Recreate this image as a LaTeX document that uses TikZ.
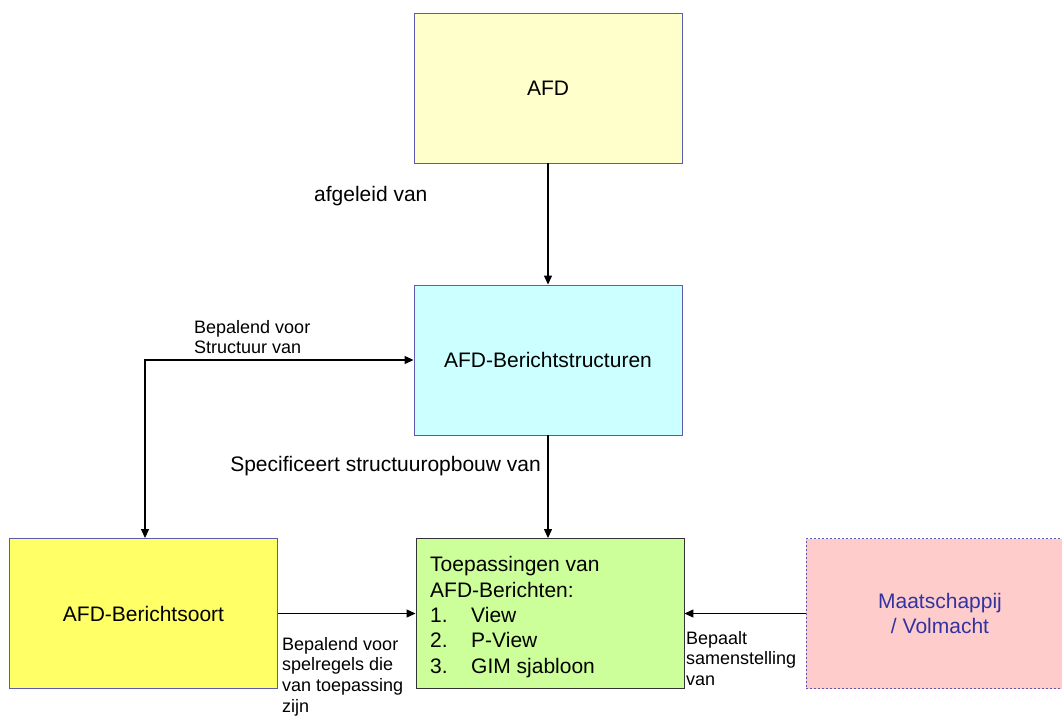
\documentclass[tikz,border=0pt]{standalone}
\usepackage{fontspec}
\setmainfont{Liberation Sans}
\usetikzlibrary{arrows.meta}
\definecolor{boxblue}{HTML}{5A5AB0}
\definecolor{lyellow}{HTML}{FFFFCC}
\definecolor{lcyan}{HTML}{CCFFFF}
\definecolor{byellow}{HTML}{FFFF66}
\definecolor{lgreen}{HTML}{CCFF99}
\definecolor{lpink}{HTML}{FFCCCC}
\definecolor{txtblue}{HTML}{3333A0}
\begin{document}
\begin{tikzpicture}[x=1pt,y=-1pt,
  box/.style={draw=boxblue,line width=0.9pt,minimum width=268pt,minimum height=150pt,inner sep=0pt,
    font=\fontsize{21}{25}\selectfont},
  conn/.style={line width=1.2pt,-{Triangle[length=9pt,width=8pt]}},
  lbl/.style={inner sep=0pt,font=\fontsize{21}{25}\selectfont},
  slbl/.style={inner sep=0pt,align=left,anchor=north west,font=\fontsize{18}{20.7}\selectfont}]
\useasboundingbox (0,0) rectangle (1062,716);
\node[box,fill=lyellow] (afd) at (548,88) {AFD};
\node[box,fill=lcyan] (struct) at (548,360) {AFD-Berichtstructuren};
\node[box,fill=byellow] (soort) at (143.5,613.5) {AFD-Berichtsoort};
\node[box,fill=lgreen,draw=black!80] (toep) at (550,613.5) {};
\node[box,fill=lpink,dashed,dash pattern=on 2pt off 2pt,minimum width=256pt,anchor=west] (maat) at (806,613.5) {};
\node[inner sep=0pt,align=center,text=txtblue,font=\fontsize{21}{25}\selectfont] (maattxt) at (940,613) {Maatschappij\\/ Volmacht};
\node[inner sep=0pt,anchor=north west,align=left,font=\fontsize{21}{25.3}\selectfont] (toeptxt) at (430,556.5)
  {Toepassingen van\\AFD-Berichten:\\\makebox[41pt][l]{1.}View\\\makebox[41pt][l]{2.}P-View\\\makebox[41pt][l]{3.}GIM sjabloon};
\node[lbl,anchor=west] (l1) at (314,196) {afgeleid van};
\node[lbl,anchor=east] (l2) at (541,466) {Specificeert structuuropbouw van};
\node[slbl] (l3) at (194,320) {Bepalend voor\\Structuur van};
\node[slbl] (l4) at (282,637) {Bepalend voor\\spelregels die\\van toepassing\\zijn};
\node[slbl] (l5) at (686,631) {Bepaalt\\samenstelling\\van};
\coordinate (corner) at (145,360);
\draw[conn] (afd.south) -- (struct.north);
\draw[conn] (struct.south) -- (toep.north -| struct.south);
\draw[conn,{Triangle[length=9pt,width=8pt]}-{Triangle[length=9pt,width=8pt]}] (soort.north -| corner) -- (corner) -- (struct.west);
\draw[conn] (soort.east) -- (toep.west);
\draw[conn] (maat.west) -- (toep.east);
\end{tikzpicture}
\end{document}
